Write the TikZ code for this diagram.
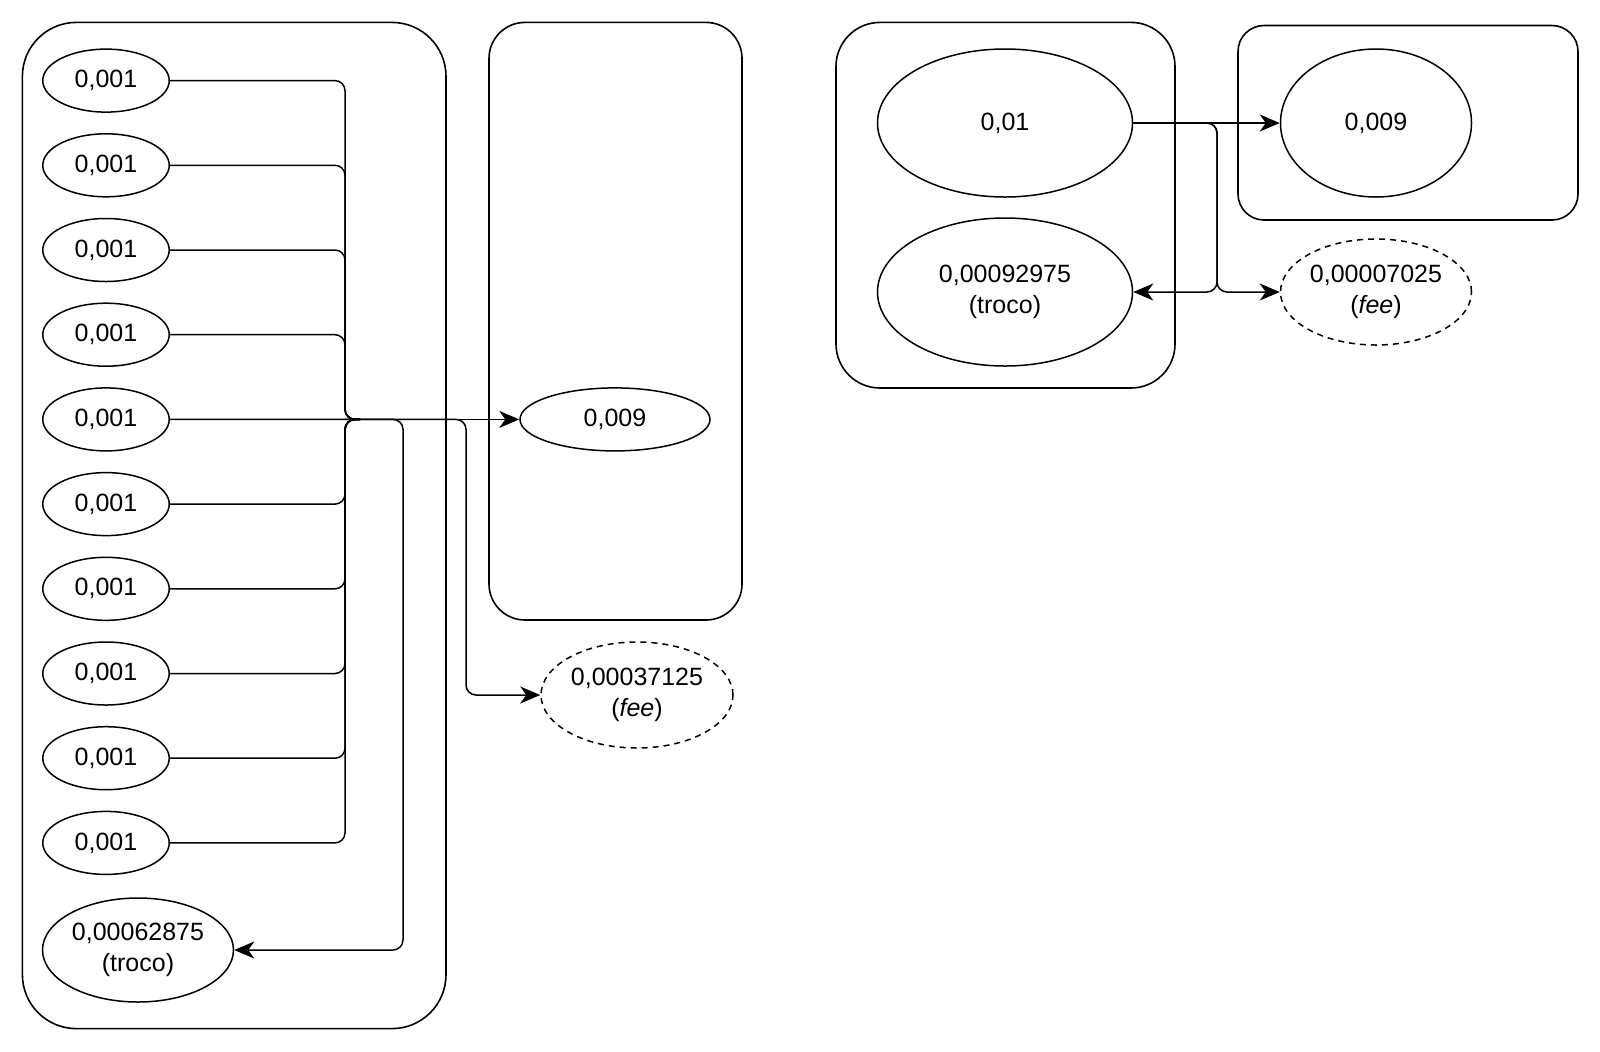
\documentclass[tikz,border=0pt]{standalone}
\usepackage{fontspec}
\setmainfont{Liberation Sans}
\usetikzlibrary{shapes.geometric, arrows.meta, positioning}

\begin{document}
\begin{tikzpicture}[x=0.5pt, y=-0.5pt, node distance=10.1pt,
    coin/.style={ellipse, draw, line width=0.75pt, inner sep=0pt, minimum width=63.25pt, minimum height=31.5pt, align=center, font=\fontsize{12.5pt}{15.3pt}\selectfont},
    feecoin/.style={coin, dash pattern=on 3pt off 2.5pt},
    grp/.style={draw, line width=0.8pt},
    line/.style={draw, line width=0.75pt, rounded corners=5pt},
    arr/.style={line, -{Stealth[length=10pt, width=8.5pt, inset=3pt]}}]

    \useasboundingbox (0,0) rectangle (1600,1051);

    % grupos
    \draw [grp, rounded corners=27pt] (22.4,22.4) rectangle (446,1028.6);
    \draw [grp, rounded corners=18pt] (489,22.4) rectangle (742,620);
    \draw [grp, rounded corners=22pt] (836,22.4) rectangle (1175,388);
    \draw [grp, rounded corners=13pt] (1238,25.5) rectangle (1578,220);

    % transacao 1: entradas
    \node [coin] (in1) at (106,80.6) {0,001};
    \node [coin, below=of in1] (in2) {0,001};
    \node [coin, below=of in2] (in3) {0,001};
    \node [coin, below=of in3] (in4) {0,001};
    \node [coin, below=of in4] (in5) {0,001};
    \node [coin, below=of in5] (in6) {0,001};
    \node [coin, below=of in6] (in7) {0,001};
    \node [coin, below=of in7] (in8) {0,001};
    \node [coin, below=of in8] (in9) {0,001};
    \node [coin, below=of in9] (in10) {0,001};
    \node [coin, minimum width=95.5pt, minimum height=52pt] (troco1) at (138,950) {0,00062875\\(troco)};

    % transacao 1: saidas
    \node [coin, minimum width=95pt] (out1) at (615,419.4) {0,009};
    \node [feecoin, minimum width=96pt, minimum height=53pt] (fee1) at (637,695) {0,00037125\\(\textit{fee})};

    \coordinate (j1) at (345,419.4);
    \coordinate (t1) at (403,419.4);
    \coordinate (f1) at (466,419.4);

    \path [line] (in1.east) -| (j1) -- ++(15,0);
    \path [line] (in2.east) -| (j1) -- ++(15,0);
    \path [line] (in3.east) -| (j1) -- ++(15,0);
    \path [line] (in4.east) -| (j1) -- ++(15,0);
    \path [line] (in5.east) -- (j1);
    \path [line] (in6.east) -| (j1) -- ++(15,0);
    \path [line] (in7.east) -| (j1) -- ++(15,0);
    \path [line] (in8.east) -| (j1) -- ++(15,0);
    \path [line] (in9.east) -| (j1) -- ++(15,0);
    \path [line] (in10.east) -| (j1) -- ++(15,0);

    \path [arr] (j1) -- (out1.west);
    \path [arr] (j1) -- (t1) |- (troco1.east);
    \path [arr] (j1) -- (f1) |- (fee1.west);

    % transacao 2
    \node [coin, minimum width=127.5pt, minimum height=74pt] (in11) at (1005,123) {0,01};
    \node [coin, minimum width=127.5pt, minimum height=74pt, below=9.75pt of in11] (troco2) {0,00092975\\(troco)};
    \node [coin, minimum width=95.5pt, minimum height=74pt] (out2) at (1376,123) {0,009};
    \node [feecoin, minimum width=95.5pt, minimum height=53pt] (fee2) at (1376,292) {0,00007025\\(\textit{fee})};

    \coordinate (j2) at (1217,123);

    \path [arr] (in11.east) -- (out2.west);
    \path [arr] (in11.east) -- (j2) |- (troco2.east);
    \path [arr] (in11.east) -- (j2) |- (fee2.west);
\end{tikzpicture}
\end{document}
